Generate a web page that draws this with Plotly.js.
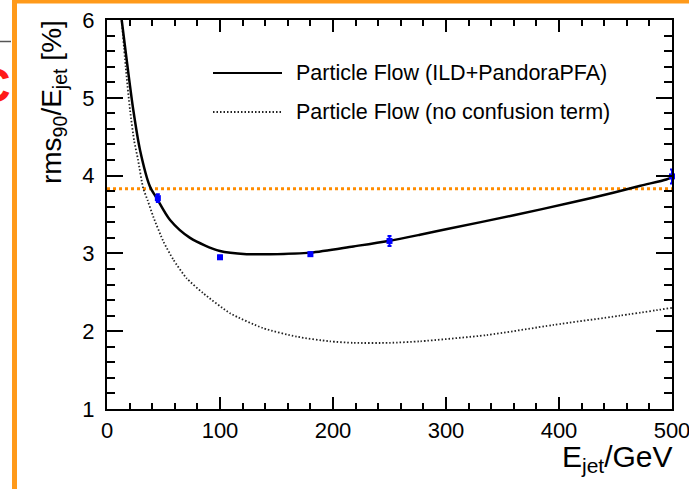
<!DOCTYPE html>
<html>
<head>
<meta charset="utf-8">
<script src="https://cdn.plot.ly/plotly-3.0.1.min.js"></script>
<style>
  html, body { margin: 0; padding: 0; background: #fff; }
  #chart { width: 689px; height: 489px; }
</style>
</head>
<body>
<div id="chart"></div>
<script>
// ---- data ----
var solidE = [13, 17.4, 23.3, 29.2, 38, 44, 55.8, 73.5, 100, 123.6, 144, 180, 218, 249, 277, 300, 360, 413, 448, 472, 495, 500];
var solidV = [6.0, 5.49, 4.84, 4.33, 3.86, 3.71, 3.43, 3.20, 3.03, 2.99, 2.99, 3.01, 3.09, 3.16, 3.24, 3.31, 3.49, 3.66, 3.78, 3.87, 3.95, 3.98];

var dotE = [13, 16.5, 20.4, 24, 27.5, 32, 36, 41, 50, 58.7, 70.5, 85, 109, 138, 168, 197, 218, 250, 277, 336, 395, 454, 500];
var dotV = [6.0, 5.4, 4.84, 4.45, 4.2, 3.84, 3.68, 3.47, 3.15, 2.92, 2.68, 2.49, 2.23, 2.04, 1.93, 1.87, 1.85, 1.85, 1.87, 1.95, 2.08, 2.20, 2.30];

var pointE = [45, 100, 180, 250, 500];
var pointV = [3.71, 2.95, 2.99, 3.16, 3.99];
var pointErr = [0.05, 0.02, 0.02, 0.065, 0.09];

var refE = [0, 500];
var refV = [3.83, 3.83];

var xTickVals = [0, 100, 200, 300, 400, 500];
var xTickText = ["0", "100", "200", "300", "400", "500"];

var legendLabels = ["Particle Flow (ILD+PandoraPFA)", "Particle Flow (no confusion term)"];
var xTitle = "E<sub>jet</sub>/GeV";
var yTitle = "rms<sub>90</sub>/E<sub>jet</sub> [%]";

// ---- layout helpers (pixel -> paper) ----
var W = 689, H = 489, ML = 107, MR = 17, MT = 20, MB = 80;
var PW = W - ML - MR, PH = H - MT - MB;
function px(x) { return (x - ML) / PW; }
function py(y) { return (H - MB - y) / PH; }

var FONT = "Liberation Sans, Arial, Helvetica, sans-serif";

var traces = [
  { x: refE, y: refV, type: "scatter", mode: "lines", showlegend: false,
    line: { color: "#ff8c00", width: 3, dash: "dot" }, hoverinfo: "skip" },
  { x: dotE, y: dotV, type: "scatter", mode: "lines", name: legendLabels[1], showlegend: false,
    line: { color: "#222222", width: 1.8, dash: "1.5px,2px", shape: "spline", smoothing: 0.6 } },
  { x: solidE, y: solidV, type: "scatter", mode: "lines", name: legendLabels[0], showlegend: false,
    line: { color: "#000000", width: 2.5, shape: "spline", smoothing: 0.8 } },
  { x: pointE, y: pointV, type: "scatter", mode: "markers", showlegend: false, cliponaxis: false,
    marker: { symbol: "square", size: 6, color: "#0000ff" },
    error_y: { type: "data", array: pointErr, color: "#0000ff", thickness: 2, width: 2 } }
];

var axisCommon = {
  showgrid: false, zeroline: false, showline: true, linecolor: "#000", linewidth: 2,
  mirror: "allticks", ticks: "inside", tickcolor: "#000", tickwidth: 2,
  tickfont: { family: FONT, size: 22, color: "#000" }
};

var layout = {
  width: W, height: H,
  margin: { l: ML, r: MR, t: MT, b: MB },
  paper_bgcolor: "#fff", plot_bgcolor: "#fff",
  showlegend: false,
  xaxis: Object.assign({}, axisCommon, {
    range: [0, 500], tickmode: "array", tickvals: xTickVals, ticktext: xTickText, ticklen: 12,
    minor: { dtick: 20, tick0: 0, ticks: "inside", ticklen: 6, tickwidth: 2, tickcolor: "#000" },
    ticklabelstandoff: 1, ticklabeloverflow: "allow"
  }),
  yaxis: Object.assign({}, axisCommon, {
    range: [1, 6], dtick: 1, tick0: 1, ticklen: 16,
    minor: { dtick: 0.2, ticks: "inside", ticklen: 8, tickwidth: 2, tickcolor: "#000" },
    ticklabelstandoff: 6
  }),
  shapes: [
    // legend samples
    { type: "line", xref: "paper", yref: "paper", x0: px(213), x1: px(282), y0: py(73), y1: py(73),
      line: { color: "#000", width: 2 } },
    { type: "line", xref: "paper", yref: "paper", x0: px(213), x1: px(282), y0: py(112), y1: py(112),
      line: { color: "#222", width: 1.8, dash: "1.5px,2px" } },
    // page decoration: orange frame and stray line
    { type: "rect", xref: "paper", yref: "paper", x0: px(12), x1: px(689), y0: py(0), y1: py(3.5),
      line: { width: 0 }, fillcolor: "#ff9a1a", layer: "above" },
    { type: "rect", xref: "paper", yref: "paper", x0: px(12), x1: px(17), y0: py(0), y1: py(489),
      line: { width: 0 }, fillcolor: "#ff9a1a", layer: "above" },
    { type: "line", xref: "paper", yref: "paper", x0: px(0), x1: px(11), y0: py(41.5), y1: py(41.5),
      line: { color: "#555", width: 1.5 } }
  ],
  annotations: [
    { xref: "paper", yref: "paper", x: px(294), y: py(73), xanchor: "left", yanchor: "middle",
      text: legendLabels[0], showarrow: false, font: { family: FONT, size: 21.5, color: "#000" } },
    { xref: "paper", yref: "paper", x: px(294), y: py(112), xanchor: "left", yanchor: "middle",
      text: legendLabels[1], showarrow: false, font: { family: FONT, size: 21.5, color: "#000" } },
    { xref: "paper", yref: "paper", x: px(675), y: py(438), xanchor: "right", yanchor: "top",
      text: xTitle, showarrow: false, font: { family: FONT, size: 30, color: "#000" } },
    { xref: "paper", yref: "paper", x: px(53), y: 1.005, xanchor: "center", yanchor: "top", textangle: -90,
      text: yTitle, showarrow: false, font: { family: FONT, size: 28, color: "#000" } },
    { xref: "paper", yref: "paper", x: px(-7), y: py(85.5), xanchor: "center", yanchor: "middle",
      text: "<b>C</b>", showarrow: false, font: { family: FONT, size: 48, color: "#ff1a1a" } }
  ]
};

Plotly.newPlot("chart", traces, layout, { displayModeBar: false, staticPlot: true });
</script>
</body>
</html>
